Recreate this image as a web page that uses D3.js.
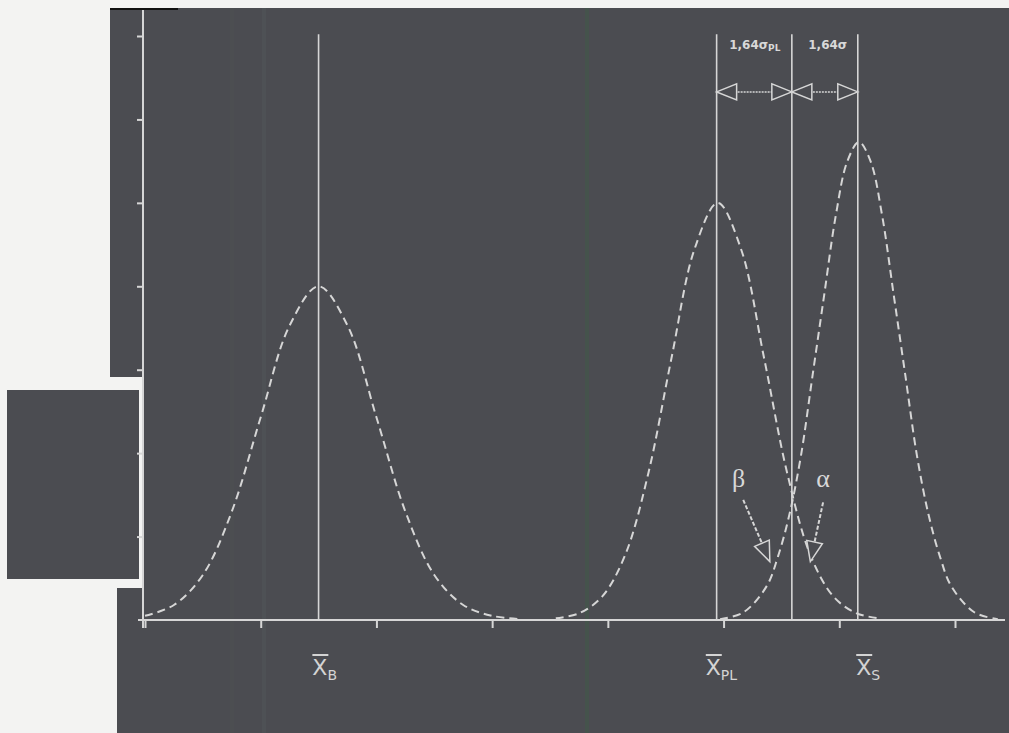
<!DOCTYPE html>
<html>
<head>
<meta charset="utf-8">
<script src="https://cdn.jsdelivr.net/npm/d3@7"></script>
<style>
  body { margin: 0; background: #f3f3f2; }
  svg { display: block; }
</style>
</head>
<body>
<div id="chart"></div>
<script>
// values (x in axis units, y in axis units)
const xTicks = [0, 1, 2, 3, 4, 5, 6, 7];
const yTicks = [1, 2, 3, 4, 5, 6, 7];

// blank distribution
const blankX = [0, 0.25, 0.5, 0.75, 1.0, 1.25, 1.5, 1.75, 2.0, 2.25, 2.5, 2.75, 3.0, 3.25];
const blankY = [0.05, 0.18, 0.54, 1.30, 2.43, 3.53, 4.0, 3.53, 2.43, 1.30, 0.54, 0.18, 0.05, 0.01];

// distribution at the limit
const limitX = [3.55, 3.75, 3.95, 4.15, 4.35, 4.55, 4.75, 4.95, 5.15, 5.35, 5.55, 5.75, 5.95, 6.15, 6.35];
const limitY = [0.02, 0.08, 0.28, 0.78, 1.76, 3.14, 4.45, 5.0, 4.45, 3.14, 1.76, 0.78, 0.28, 0.08, 0.02];

// sample distribution
const sampleX = [4.97, 5.17, 5.37, 5.47, 5.57, 5.67, 5.77, 5.87, 5.97, 6.07, 6.17, 6.27, 6.37, 6.47, 6.57, 6.67, 6.77, 6.87, 6.97, 7.17, 7.37];
const sampleY = [0.01, 0.09, 0.40, 0.76, 1.27, 1.98, 2.94, 3.90, 4.85, 5.50, 5.73, 5.50, 4.85, 3.90, 2.94, 1.98, 1.27, 0.76, 0.40, 0.09, 0.01];

const meanLines = [1.5, 4.94, 5.59, 6.16];
const meanLabels = [
  { x: 1.55, main: "X", sub: "B" },
  { x: 4.95, main: "X", sub: "PL" },
  { x: 6.25, main: "X", sub: "S" }
];

const width = 1009, height = 733;
const x = d3.scaleLinear().domain([0, 7]).range([145, 955]);
const y = d3.scaleLinear().domain([0, 7]).range([620, 36]);

const ink = "#d6d6d6";
const dark = "#4b4c51";

const svg = d3.select("#chart").append("svg")
    .attr("width", width)
    .attr("height", height);

// scanned page background
svg.append("rect").attr("x", 0).attr("y", 0).attr("width", width).attr("height", height).attr("fill", "#f3f3f2");
svg.append("rect").attr("x", 110).attr("y", 8).attr("width", width - 110).attr("height", 369).attr("fill", dark);
svg.append("rect").attr("x", 143).attr("y", 376).attr("width", width - 143).attr("height", 213).attr("fill", dark);
svg.append("rect").attr("x", 117).attr("y", 588).attr("width", width - 117).attr("height", height - 588).attr("fill", dark);
svg.append("rect").attr("x", 7).attr("y", 390).attr("width", 132).attr("height", 189).attr("fill", dark);
svg.append("line").attr("x1", 110).attr("x2", 178).attr("y1", 9).attr("y2", 9)
    .attr("stroke", "#111").attr("stroke-width", 2);
// faint scanner streaks
[[262, "#52555a"], [585, "#3f5a48"], [230, "#4e4f52"]].forEach(s => {
  svg.append("rect").attr("x", s[0]).attr("y", 8).attr("width", 4).attr("height", height - 8)
      .attr("fill", s[1]).attr("opacity", 0.5);
});

// axes
const xAxis = svg.append("g").attr("transform", `translate(0,${y(0)})`)
    .call(d3.axisBottom(x).tickValues(xTicks).tickSize(8).tickFormat(""));
xAxis.select(".domain").remove();
xAxis.append("line").attr("x1", 138).attr("x2", 1005).attr("stroke", ink).attr("stroke-width", 2);
xAxis.selectAll(".tick line").attr("stroke", ink).attr("stroke-width", 2);

const yAxis = svg.append("g").attr("transform", `translate(${x(0) - 2},0)`)
    .call(d3.axisLeft(y).tickValues(yTicks).tickSize(6).tickFormat(""));
yAxis.select(".domain").remove();
yAxis.append("line").attr("y1", 10).attr("y2", y(0) + 8).attr("stroke", ink).attr("stroke-width", 2);
yAxis.selectAll(".tick line").attr("stroke", ink).attr("stroke-width", 2);

// vertical lines at the means
svg.selectAll("line.mean")
    .data(meanLines)
    .enter().append("line")
    .attr("class", "mean")
    .attr("x1", d => x(d)).attr("x2", d => x(d))
    .attr("y1", y(7.02)).attr("y2", y(0))
    .attr("stroke", ink).attr("stroke-width", 1.6);

// dashed distributions
const line = d3.line()
    .x(d => x(d[0]))
    .y(d => y(d[1]))
    .curve(d3.curveCatmullRom.alpha(0.5));

[[blankX, blankY], [limitX, limitY], [sampleX, sampleY]].forEach(s => {
  svg.append("path")
      .datum(d3.zip(s[0], s[1]))
      .attr("d", line)
      .attr("fill", "none")
      .attr("stroke", ink)
      .attr("stroke-width", 2)
      .attr("stroke-dasharray", "8,5");
});

// open triangle arrow head, tip at (tx,ty) pointing along angle
function arrowHead(tx, ty, ang) {
  const len = 20, half = 8;
  const bx = tx - len * Math.cos(ang), by = ty - len * Math.sin(ang);
  const px = -Math.sin(ang) * half, py = Math.cos(ang) * half;
  svg.append("polygon")
      .attr("points", [[tx, ty], [bx + px, by + py], [bx - px, by - py]].map(p => p.join(",")).join(" "))
      .attr("fill", dark)
      .attr("stroke", ink)
      .attr("stroke-width", 1.5);
}

// 1,64 sigma double arrows
const arrowY = y(6.33);
[[meanLines[1], meanLines[2]], [meanLines[2], meanLines[3]]].forEach(seg => {
  const a = x(seg[0]), b = x(seg[1]);
  svg.append("line").attr("x1", a).attr("x2", b).attr("y1", arrowY).attr("y2", arrowY)
      .attr("stroke", ink).attr("stroke-width", 1.5).attr("stroke-dasharray", "2,1");
  arrowHead(a, arrowY, Math.PI);
  arrowHead(b, arrowY, 0);
});

const small = svg.append("g")
    .attr("font-family", "DejaVu Sans, sans-serif")
    .attr("font-size", 12)
    .attr("font-weight", "bold")
    .attr("fill", "#d8d8d8")
    .attr("text-anchor", "middle");
const t1 = small.append("text").attr("x", x(5.27)).attr("y", y(6.85));
t1.append("tspan").text("1,64σ");
t1.append("tspan").attr("font-size", 9).attr("dy", 2).text("PL");
small.append("text").attr("x", x(5.9)).attr("y", y(6.85)).text("1,64σ");

// alpha / beta
const greek = svg.append("g")
    .attr("font-family", "Liberation Serif, serif")
    .attr("font-size", 26)
    .attr("fill", "#d8d8d8")
    .attr("text-anchor", "middle");
greek.append("text").attr("x", x(5.13)).attr("y", y(1.6)).text("β");
greek.append("text").attr("x", x(5.86)).attr("y", y(1.6)).text("α");

[[[5.17, 1.44], [5.40, 0.70]], [[5.86, 1.41], [5.75, 0.70]]].forEach(a => {
  const x1 = x(a[0][0]), y1 = y(a[0][1]), x2 = x(a[1][0]), y2 = y(a[1][1]);
  const ang = Math.atan2(y2 - y1, x2 - x1);
  svg.append("line").attr("x1", x1).attr("y1", y1)
      .attr("x2", x2 - 18 * Math.cos(ang)).attr("y2", y2 - 18 * Math.sin(ang))
      .attr("stroke", ink).attr("stroke-width", 2).attr("stroke-dasharray", "4,2");
  arrowHead(x2, y2, ang);
});

// mean labels under the axis
const labels = svg.append("g")
    .attr("font-family", "DejaVu Sans, sans-serif")
    .attr("fill", "#d4d4d4");
meanLabels.forEach(l => {
  const g = labels.append("g").attr("transform", `translate(${x(l.x)},675)`);
  const t = g.append("text").attr("font-size", 22).attr("text-anchor", "start").attr("x", -12);
  t.append("tspan").text(l.main);
  t.append("tspan").attr("font-size", 14).attr("dy", 5).text(l.sub);
  g.append("line").attr("x1", -12).attr("x2", 4).attr("y1", -20).attr("y2", -20)
      .attr("stroke", "#d4d4d4").attr("stroke-width", 2);
});
</script>
</body>
</html>
